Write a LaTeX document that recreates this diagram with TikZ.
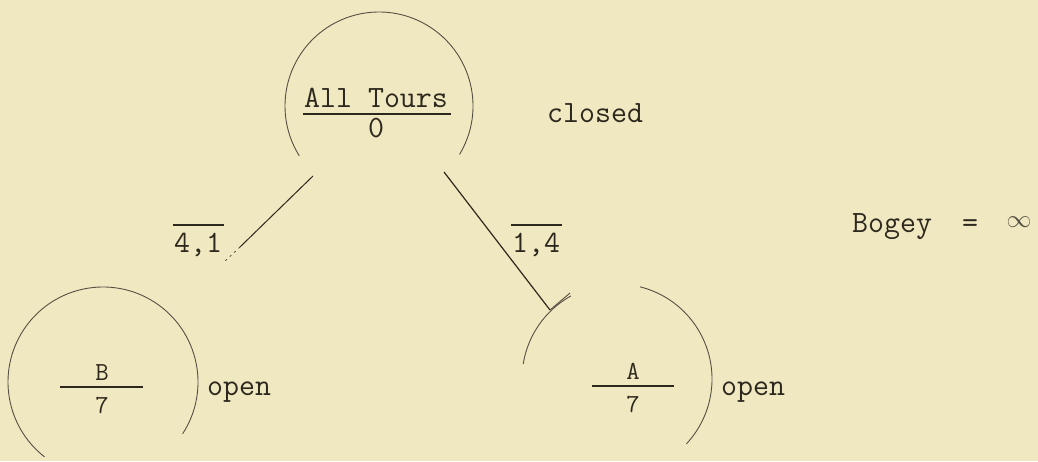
\documentclass[tikz,border=0pt]{standalone}
\usetikzlibrary{calc}
\definecolor{paper}{RGB}{240,232,192}
\definecolor{ink}{RGB}{45,40,30}
\definecolor{pencil}{RGB}{85,80,68}
\tikzset{
  lbl/.style={inner sep=0pt, text=ink, font=\ttfamily\fontsize{31}{33}\selectfont},
  small/.style={inner sep=0pt, text=ink, font=\ttfamily\fontsize{26}{28}\selectfont},
  ring/.style={draw=pencil, line width=0.9pt},
  edge/.style={draw=ink, line width=1.2pt},
  bar/.style={draw=ink, line width=1.7pt}
}
\begin{document}
\begin{tikzpicture}[x=1pt,y=1pt]
\fill[paper] (0,0) rectangle (1038,461);
\useasboundingbox (0,0) rectangle (1038,461);
\begin{scope}
\clip (0,0) rectangle (1038,461);
% centres
\coordinate (cT) at (379,355);
\coordinate (cB) at (103,79);
\coordinate (cA) at (617,82);
% top circle
\draw[ring] ($(cT)+(-31:94)$) arc[start angle=-31, end angle=212, radius=94];
% B circle
\draw[ring] ($(cB)+(-33:95)$) arc[start angle=-33, end angle=232, radius=95];
% A circle (two arcs)
\draw[ring] ($(cA)+(171:95)$) arc[start angle=171, end angle=119, radius=95];
\draw[ring] ($(cA)+(76:95)$) arc[start angle=76, end angle=-43, radius=95];
\end{scope}
% top node text
\node[lbl, anchor=base west] (tours) at (304,353) {All Tours};
\draw[bar] (303,347) -- (451,347);
\node[lbl, anchor=base] (zero) at (376,323) {0};
\node[lbl, anchor=base west] (closed) at (547,338) {closed};
% connectors
\coordinate (l1) at (313,285);
\coordinate (l2) at (240,214);
\coordinate (l3) at (223,198);
\coordinate (r1) at (444,289);
\coordinate (r2) at (550,151);
\draw[edge, line width=1pt] (l1) -- (l2);
\draw[draw=pencil, line width=0.8pt, dash pattern=on 2pt off 4pt] (l2) -- (l3);
\draw[edge] (r1) -- (r2);
\draw[ring] (r2) -- ++(20,17);
% edge labels
\node[lbl, anchor=base west] (e41) at (174,208) {4,1};
\draw[bar] (173,236) -- (224,236);
\node[lbl, anchor=base west] (e14) at (512,208) {1,4};
\draw[bar] (511,236) -- (562,236);
% bogey
\node[lbl, anchor=base west] (bogey) at (852,228) {Bogey};
\node[lbl] (eq) at (970,235) {=};
\node[inner sep=0pt, text=pencil, font=\fontsize{31}{33}\selectfont] (inf) at (1019,239) {$\infty$};
% B node
\draw[bar] (60,74) -- (143,74);
\node[small, anchor=base] (bB) at (102,81) {B};
\node[small, anchor=base] (b7) at (102,48) {7};
\node[lbl, anchor=base west] (bopen) at (207,66) {open};
% A node
\draw[bar] (592,75) -- (674,75);
\node[small, anchor=base] (aA) at (633,82) {A};
\node[small, anchor=base] (a7) at (633,49) {7};
\node[lbl, anchor=base west] (aopen) at (721,66) {open};
\end{tikzpicture}
\end{document}
